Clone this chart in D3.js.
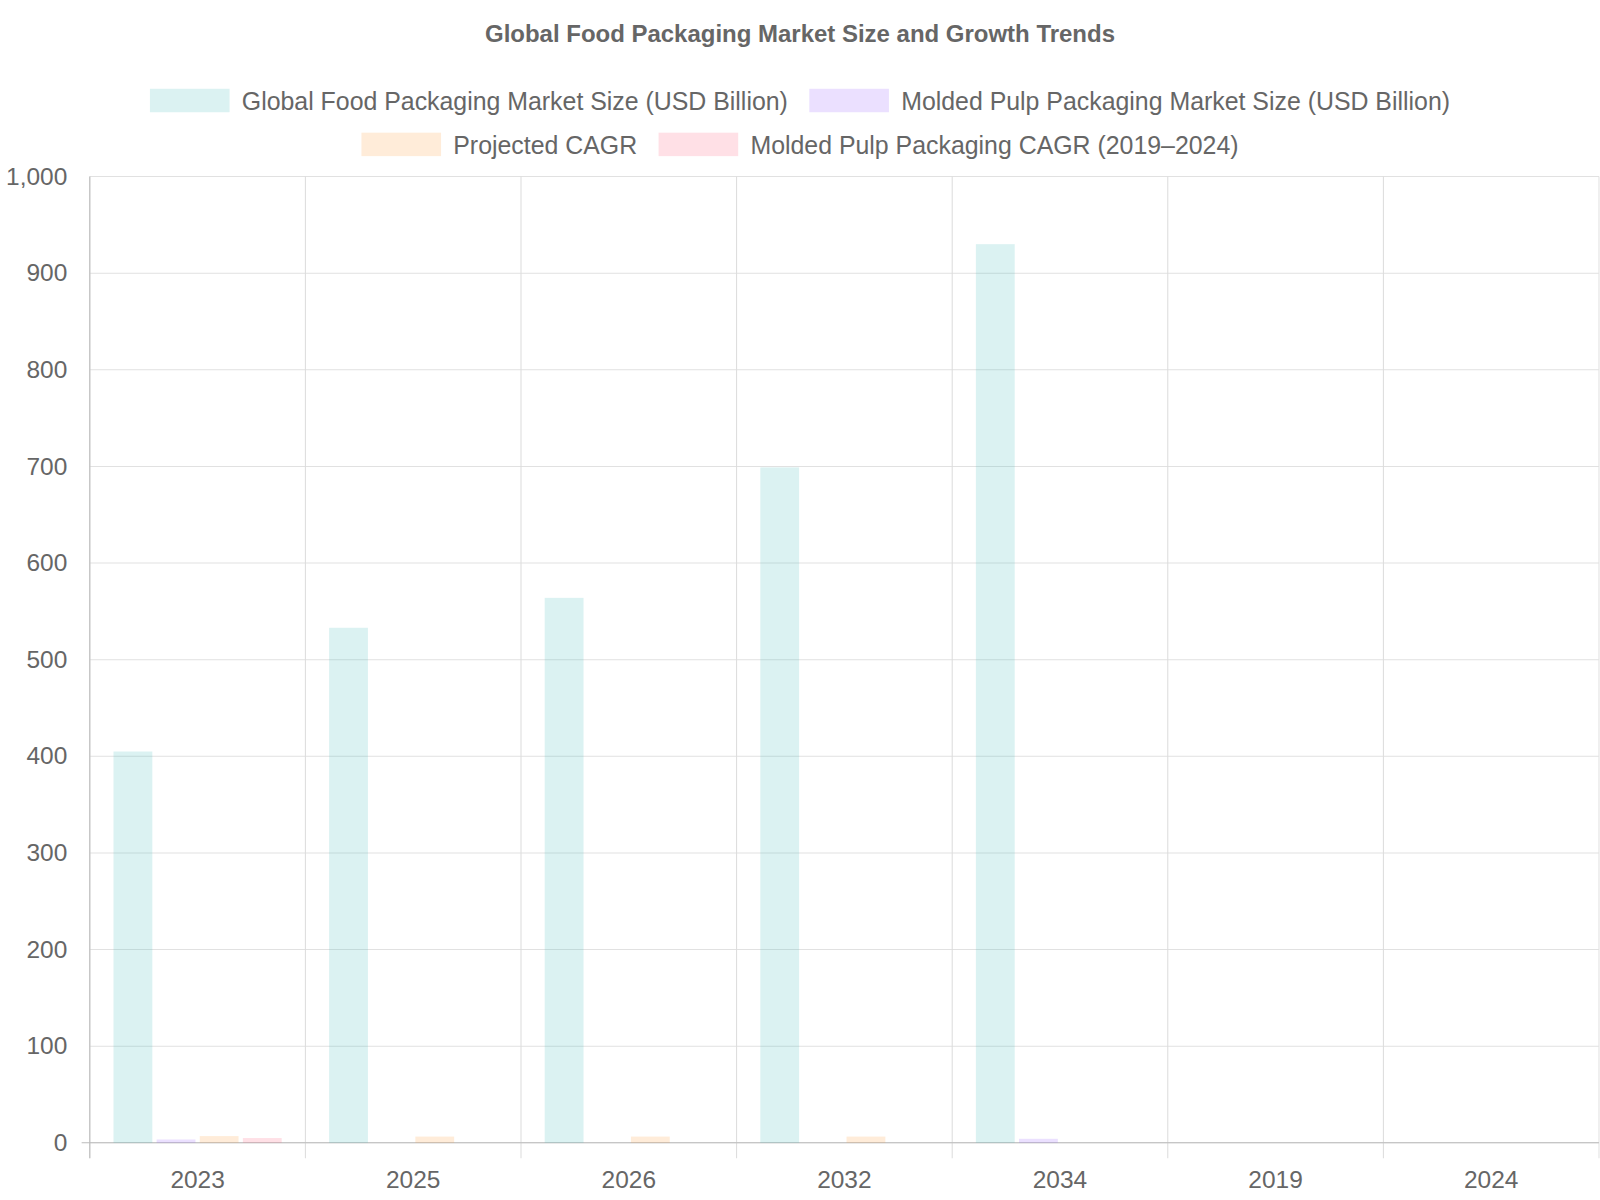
<!DOCTYPE html>
<html><head><meta charset="utf-8">
<script src="https://cdn.jsdelivr.net/npm/d3@7"></script>
<style>body{margin:0;background:#fff}</style></head>
<body><svg id="c" width="1600" height="1200"></svg>
<script>
const categories=["2023","2025","2026","2032","2034","2019","2024"];
const seriesNames=["Global Food Packaging Market Size (USD Billion)","Molded Pulp Packaging Market Size (USD Billion)","Projected CAGR","Molded Pulp Packaging CAGR (2019–2024)"];
const globalSize=[405,533,564,699,930,null,null];
const pulpSize=[3.5,null,null,null,4.2,null,null];
const cagr=[7,6.5,6.5,6.5,null,null,null];
const pulpCagr=[5,null,null,null,null,null,null];
const yTicks=[0,100,200,300,400,500,600,700,800,900,1000];
const colors=["rgba(75,192,192,0.2)","rgba(153,102,255,0.2)","rgba(255,159,64,0.2)","rgba(255,99,132,0.2)"];
const series=[globalSize,pulpSize,cagr,pulpCagr];
const svg=d3.select("#c").append("g").attr("transform","scale("+(1600/1568)+")"),F="Liberation Sans, Arial, sans-serif";
const L=88,R=1567,T=173,B=1120;
const x=d3.scaleBand().domain(categories).range([L,R]);
const x1=d3.scaleBand().domain(d3.range(4)).range([0,x.bandwidth()]).paddingInner(0.1).paddingOuter(0.55);
const y=d3.scaleLinear().domain([0,1000]).range([B,T]);
svg.append("text").attr("x",784).attr("y",41).attr("text-anchor","middle").attr("font-family",F).attr("font-size",23.5).attr("font-weight","bold").attr("fill","#666").text("Global Food Packaging Market Size and Growth Trends");
const g=svg.append("g");
yTicks.forEach(t=>g.append("line").attr("x1",L).attr("x2",R).attr("y1",y(t)).attr("y2",y(t)).attr("stroke","#e1e1e1"));
categories.forEach((c,i)=>g.append("line").attr("x1",x(c)).attr("x2",x(c)).attr("y1",T).attr("y2",B+15).attr("stroke","#dcdcdc"));
g.append("line").attr("x1",R).attr("x2",R).attr("y1",T).attr("y2",B+15).attr("stroke","#e1e1e1");
g.append("line").attr("x1",L).attr("x2",L).attr("y1",T).attr("y2",B+15).attr("stroke","#bbb");
g.append("line").attr("x1",L-8).attr("x2",R).attr("y1",B).attr("y2",B).attr("stroke","#bbb");
yTicks.forEach(t=>svg.append("text").attr("x",L-22).attr("y",y(t)+8).attr("text-anchor","end").attr("font-family",F).attr("font-size",24).attr("fill","#666").text(d3.format(",")(t)));
categories.forEach(c=>svg.append("text").attr("x",x(c)+x.bandwidth()/2).attr("y",1164).attr("text-anchor","middle").attr("font-family",F).attr("font-size",24).attr("fill","#666").text(c));
series.forEach((s,si)=>{
 svg.append("g").selectAll("rect").data(categories.map((c,i)=>({c,v:s[i]})).filter(d=>d.v!=null)).join("rect")
 .attr("x",d=>x(d.c)+x1(si)).attr("width",x1.bandwidth()).attr("y",d=>y(d.v)).attr("height",d=>B-y(d.v)).attr("fill",colors[si]);
});
const rows=[[0,1],[2,3]];
rows.forEach((r,ri)=>{
 const widths=r.map(i=>{const t=svg.append("text").attr("font-family",F).attr("font-size",24.4).text(seriesNames[i]);const w=t.node().getComputedTextLength();t.remove();return w;});
 const itemW=widths.map(w=>78+12+w);const gap=21;
 const total=d3.sum(itemW)+gap*(r.length-1);
 let cx=784-total/2;const yy=ri===0?99:142;
 r.forEach((i,k)=>{
  svg.append("rect").attr("x",cx).attr("y",yy-12).attr("width",78).attr("height",23).attr("fill",colors[i]);
  svg.append("text").attr("x",cx+90).attr("y",yy+8.5).attr("font-family",F).attr("font-size",24.4).attr("fill","#666").text(seriesNames[i]);
  cx+=itemW[k]+gap;
 });
});
</script></body></html>
